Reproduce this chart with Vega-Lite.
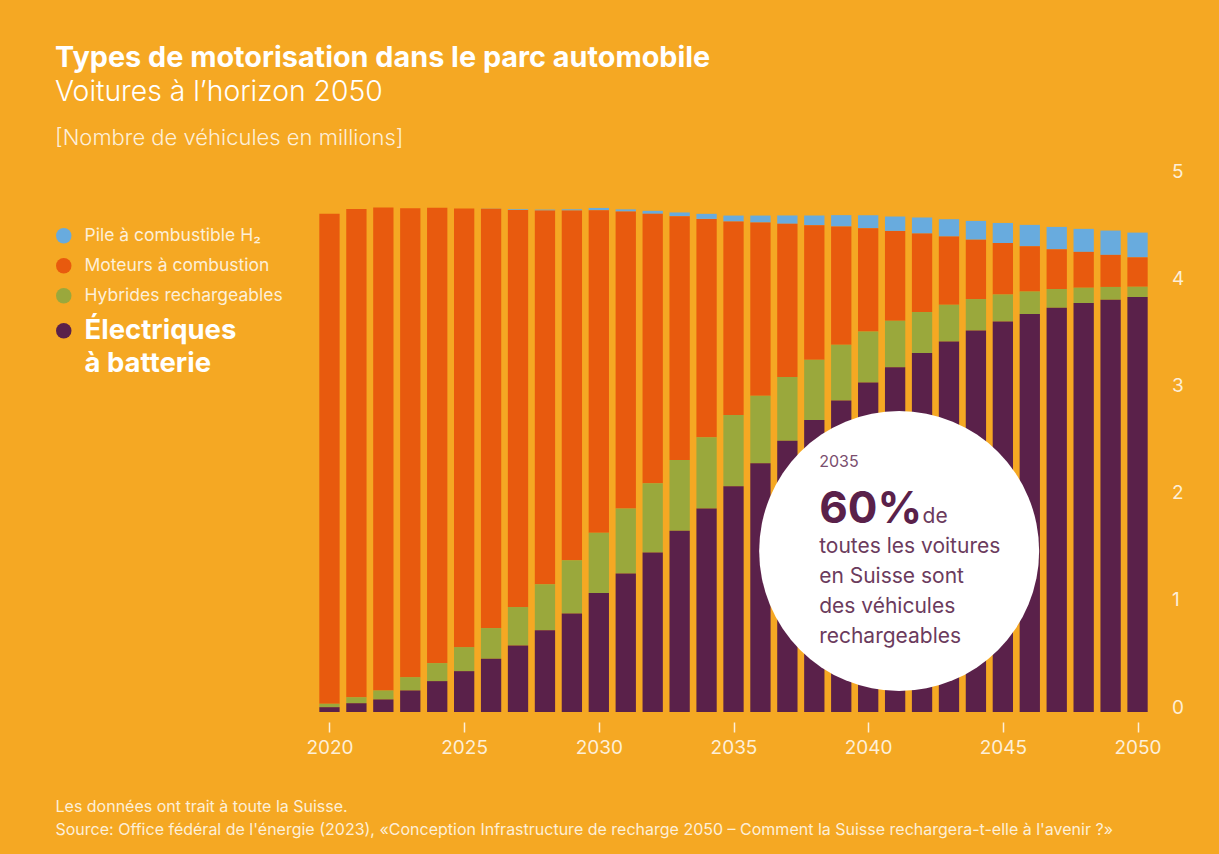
{
  "$schema": "https://vega.github.io/schema/vega-lite/v6.json",
  "width": 845,
  "height": 536,
  "autosize": {"type": "none"},
  "padding": {"left": 311, "top": 176, "right": 63, "bottom": 142},
  "background": "#F5A823",
  "config": {
    "view": {"stroke": null},
    "font": "Inter",
    "style": {"guide-label": {"lineHeight": 33}}
  },
  "title": {
    "text": "Types de motorisation dans le parc automobile",
    "subtitle": "Voitures à l’horizon 2050",
    "anchor": "start",
    "frame": "group",
    "dx": -256,
    "offset": 22,
    "font": "Inter",
    "fontSize": 28.8,
    "fontWeight": "bold",
    "color": "#FFFFFF",
    "subtitleFont": "Inter",
    "subtitleFontSize": 28.3,
    "subtitleFontWeight": 300,
    "subtitleColor": "#FFFFFF",
    "subtitlePadding": 6
  },
  "layer": [
    {
      "data": {
        "values": [
          {"year": 2020, "Électriques à batterie": 0.045, "Hybrides rechargeables": 0.032, "Moteurs à combustion": 4.570, "Pile à combustible H₂": 0.000},
          {"year": 2021, "Électriques à batterie": 0.082, "Hybrides rechargeables": 0.056, "Moteurs à combustion": 4.555, "Pile à combustible H₂": 0.000},
          {"year": 2022, "Électriques à batterie": 0.117, "Hybrides rechargeables": 0.084, "Moteurs à combustion": 4.505, "Pile à combustible H₂": 0.000},
          {"year": 2023, "Électriques à batterie": 0.201, "Hybrides rechargeables": 0.124, "Moteurs à combustion": 4.374, "Pile à combustible H₂": 0.000},
          {"year": 2024, "Électriques à batterie": 0.288, "Hybrides rechargeables": 0.168, "Moteurs à combustion": 4.247, "Pile à combustible H₂": 0.000},
          {"year": 2025, "Électriques à batterie": 0.381, "Hybrides rechargeables": 0.224, "Moteurs à combustion": 4.091, "Pile à combustible H₂": 0.000},
          {"year": 2026, "Électriques à batterie": 0.497, "Hybrides rechargeables": 0.286, "Moteurs à combustion": 3.911, "Pile à combustible H₂": 0.002},
          {"year": 2027, "Électriques à batterie": 0.621, "Hybrides rechargeables": 0.358, "Moteurs à combustion": 3.703, "Pile à combustible H₂": 0.008},
          {"year": 2028, "Électriques à batterie": 0.762, "Hybrides rechargeables": 0.430, "Moteurs à combustion": 3.486, "Pile à combustible H₂": 0.009},
          {"year": 2029, "Électriques à batterie": 0.918, "Hybrides rechargeables": 0.498, "Moteurs à combustion": 3.262, "Pile à combustible H₂": 0.012},
          {"year": 2030, "Électriques à batterie": 1.110, "Hybrides rechargeables": 0.561, "Moteurs à combustion": 3.009, "Pile à combustible H₂": 0.022},
          {"year": 2031, "Électriques à batterie": 1.292, "Hybrides rechargeables": 0.607, "Moteurs à combustion": 2.769, "Pile à combustible H₂": 0.021},
          {"year": 2032, "Électriques à batterie": 1.488, "Hybrides rechargeables": 0.645, "Moteurs à combustion": 2.514, "Pile à combustible H₂": 0.028},
          {"year": 2033, "Électriques à batterie": 1.690, "Hybrides rechargeables": 0.661, "Moteurs à combustion": 2.274, "Pile à combustible H₂": 0.035},
          {"year": 2034, "Électriques à batterie": 1.899, "Hybrides rechargeables": 0.664, "Moteurs à combustion": 2.037, "Pile à combustible H₂": 0.047},
          {"year": 2035, "Électriques à batterie": 2.107, "Hybrides rechargeables": 0.664, "Moteurs à combustion": 1.804, "Pile à combustible H₂": 0.056},
          {"year": 2036, "Électriques à batterie": 2.320, "Hybrides rechargeables": 0.629, "Moteurs à combustion": 1.617, "Pile à combustible H₂": 0.065},
          {"year": 2037, "Électriques à batterie": 2.531, "Hybrides rechargeables": 0.593, "Moteurs à combustion": 1.430, "Pile à combustible H₂": 0.078},
          {"year": 2038, "Électriques à batterie": 2.724, "Hybrides rechargeables": 0.561, "Moteurs à combustion": 1.255, "Pile à combustible H₂": 0.091},
          {"year": 2039, "Électriques à batterie": 2.905, "Hybrides rechargeables": 0.521, "Moteurs à combustion": 1.103, "Pile à combustible H₂": 0.106},
          {"year": 2040, "Électriques à batterie": 3.073, "Hybrides rechargeables": 0.477, "Moteurs à combustion": 0.963, "Pile à combustible H₂": 0.121},
          {"year": 2041, "Électriques à batterie": 3.217, "Hybrides rechargeables": 0.433, "Moteurs à combustion": 0.838, "Pile à combustible H₂": 0.134},
          {"year": 2042, "Électriques à batterie": 3.348, "Hybrides rechargeables": 0.383, "Moteurs à combustion": 0.732, "Pile à combustible H₂": 0.150},
          {"year": 2043, "Électriques à batterie": 3.456, "Hybrides rechargeables": 0.343, "Moteurs à combustion": 0.636, "Pile à combustible H₂": 0.162},
          {"year": 2044, "Électriques à batterie": 3.559, "Hybrides rechargeables": 0.293, "Moteurs à combustion": 0.554, "Pile à combustible H₂": 0.175},
          {"year": 2045, "Électriques à batterie": 3.643, "Hybrides rechargeables": 0.252, "Moteurs à combustion": 0.480, "Pile à combustible H₂": 0.187},
          {"year": 2046, "Électriques à batterie": 3.712, "Hybrides rechargeables": 0.211, "Moteurs à combustion": 0.421, "Pile à combustible H₂": 0.200},
          {"year": 2047, "Électriques à batterie": 3.771, "Hybrides rechargeables": 0.175, "Moteurs à combustion": 0.370, "Pile à combustible H₂": 0.209},
          {"year": 2048, "Électriques à batterie": 3.815, "Hybrides rechargeables": 0.143, "Moteurs à combustion": 0.334, "Pile à combustible H₂": 0.215},
          {"year": 2049, "Électriques à batterie": 3.846, "Hybrides rechargeables": 0.119, "Moteurs à combustion": 0.299, "Pile à combustible H₂": 0.227},
          {"year": 2050, "Électriques à batterie": 3.871, "Hybrides rechargeables": 0.096, "Moteurs à combustion": 0.274, "Pile à combustible H₂": 0.231}
        ]
      },
      "transform": [
        {"fold": ["Pile à combustible H₂", "Moteurs à combustion", "Hybrides rechargeables", "Électriques à batterie"], "as": ["type", "value"]},
        {"calculate": "indexof(['Électriques à batterie', 'Hybrides rechargeables', 'Moteurs à combustion', 'Pile à combustible H₂'], datum.type)", "as": "stackOrder"}
      ],
      "mark": {"type": "bar", "width": 20.3},
      "encoding": {
        "x": {
          "field": "year",
          "type": "quantitative",
          "scale": {"domain": [2019.5, 2050.5], "nice": false, "zero": false},
          "axis": {
            "values": [2020, 2025, 2030, 2035, 2040, 2045, 2050],
            "format": "d",
            "grid": false,
            "domain": false,
            "offset": 10,
            "tickSize": 10,
            "tickWidth": 1.5,
            "tickColor": "#FDEFD8",
            "labelPadding": 6,
            "labelFont": "Inter",
            "labelFontSize": 19,
            "labelColor": "#FDEFD8",
            "labelFlush": false,
            "labelOverlap": false,
            "title": ["Les données ont trait à toute la Suisse.", "Source: Office fédéral de l'énergie (2023), «Conception Infrastructure de recharge 2050 – Comment la Suisse rechargera-t-elle à l'avenir ?»"],
            "titleX": -256,
            "titleY": 89,
            "titleAlign": "left",
            "titleAnchor": null,
            "titleBaseline": "alphabetic",
            "titleFont": "Inter",
            "titleFontSize": 16,
            "titleFontWeight": "normal",
            "titleLineHeight": 23,
            "titleLimit": 1200,
            "titleColor": "#FDEFD8"
          }
        },
        "y": {
          "field": "value",
          "type": "quantitative",
          "stack": "zero",
          "scale": {"domain": [0, 5], "nice": false},
          "axis": {
            "orient": "right",
            "values": [0, 1, 2, 3, 4, 5],
            "format": "d",
            "grid": false,
            "domain": false,
            "ticks": false,
            "labelPadding": 15.5,
            "labelOffset": -5,
            "labelFont": "Inter",
            "labelFontSize": 19,
            "labelColor": "#FDEFD8",
            "title": null
          }
        },
        "order": {"field": "stackOrder", "type": "quantitative", "sort": "ascending"},
        "color": {
          "field": "type",
          "type": "nominal",
          "sort": ["Pile à combustible H₂", "Moteurs à combustion", "Hybrides rechargeables", "Électriques à batterie"],
          "scale": {
            "domain": ["Pile à combustible H₂", "Moteurs à combustion", "Hybrides rechargeables", "Électriques à batterie"],
            "range": ["#68ABDE", "#E85A0E", "#9AA83C", "#5A214A"]
          },
          "legend": {
            "orient": "none",
            "legendX": -256,
            "legendY": -48,
            "padding": 0,
            "title": "[Nombre de véhicules en millions]",
            "titleFont": "Inter",
            "titleFontSize": 22,
            "titleFontWeight": 300,
            "titleColor": "#FDEFD8",
            "titleLimit": 600,
            "titlePadding": 77,
            "symbolType": "circle",
            "symbolSize": 240,
            "symbolStrokeWidth": 0,
            "symbolOpacity": 1,
            "labelOffset": 12,
            "labelLimit": 400,
            "rowPadding": 11,
            "labelFont": "Inter",
            "labelFontSize": {"expr": "datum.value === 'Électriques à batterie' ? 27.5 : 17.5"},
            "labelFontWeight": {"expr": "datum.value === 'Électriques à batterie' ? 'bold' : 'normal'"},
            "labelColor": {"expr": "datum.value === 'Électriques à batterie' ? '#FFFFFF' : '#FDEFD8'"},
            "labelExpr": "datum.value === 'Électriques à batterie' ? ['Électriques', 'à batterie'] : datum.label"
          }
        }
      }
    },
    {
      "data": {"values": [{"year": 2041.15, "value": 1.502}]},
      "mark": {"type": "point", "shape": "circle", "filled": true, "size": 78400, "color": "#FFFFFF", "opacity": 1, "strokeWidth": 0},
      "encoding": {
        "x": {"field": "year", "type": "quantitative"},
        "y": {"field": "value", "type": "quantitative"}
      }
    },
    {
      "data": {"values": [{"year": 2038.18, "value": 2.285, "label": "2035"}]},
      "mark": {"type": "text", "align": "left", "baseline": "alphabetic", "font": "Inter", "fontSize": 16, "color": "#7A4E6E"},
      "encoding": {
        "x": {"field": "year", "type": "quantitative"},
        "y": {"field": "value", "type": "quantitative"},
        "text": {"field": "label"}
      }
    },
    {
      "data": {"values": [{"year": 2038.18, "value": 1.763, "label": "60%"}]},
      "mark": {"type": "text", "align": "left", "baseline": "alphabetic", "font": "Inter", "fontSize": 44, "fontWeight": "bold", "color": "#5A214A"},
      "encoding": {
        "x": {"field": "year", "type": "quantitative"},
        "y": {"field": "value", "type": "quantitative"},
        "text": {"field": "label"}
      }
    },
    {
      "data": {"values": [
        {"year": 2042.02, "value": 1.763, "label": "de"},
        {"year": 2038.18, "value": 1.479, "label": "toutes les voitures\nen Suisse sont\ndes véhicules\nrechargeables"}
      ]},
      "mark": {"type": "text", "align": "left", "baseline": "alphabetic", "font": "Inter", "fontSize": 21, "lineBreak": "\n", "lineHeight": 29.8, "color": "#6B3B5D"},
      "encoding": {
        "x": {"field": "year", "type": "quantitative"},
        "y": {"field": "value", "type": "quantitative"},
        "text": {"field": "label"}
      }
    }
  ]
}
